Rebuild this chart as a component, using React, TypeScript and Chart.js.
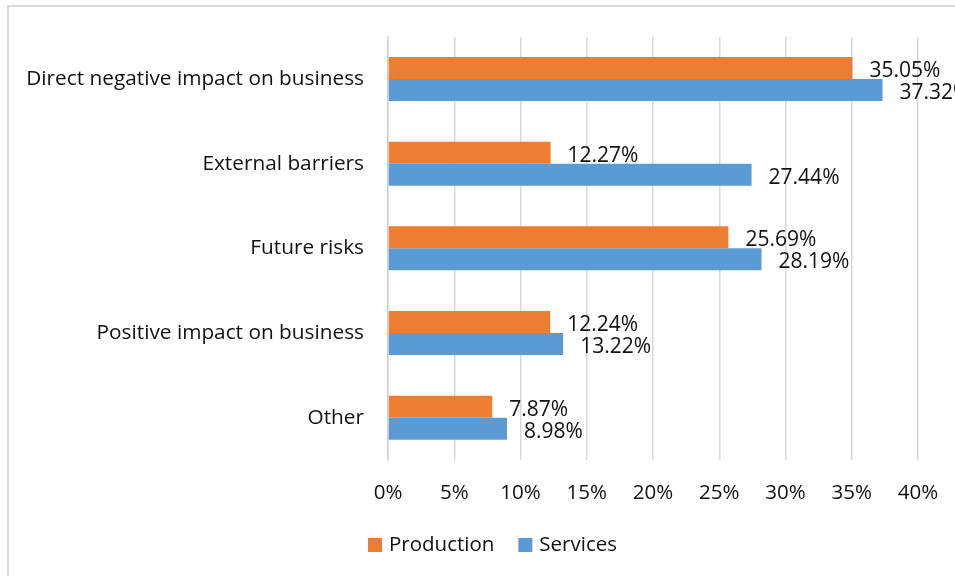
import React, { useEffect, useRef } from 'react';
import { Chart, registerables } from 'chart.js';

Chart.register(...registerables);

const categories = [
  'Direct negative impact on business',
  'External barriers',
  'Future risks',
  'Positive impact on business',
  'Other',
];
const productionValues = [35.05, 12.27, 25.69, 12.24, 7.87];
const servicesValues = [37.32, 27.44, 28.19, 13.22, 8.98];
const seriesNames = ['Production', 'Services'];
const xMin = 0;
const xMax = 40;
const xStep = 5;

const FONT_FAMILY = '"Open Sans", "Noto Sans", sans-serif';
const TEXT_COLOR = '#111111';
const ORANGE = '#ED7D31';
const BLUE = '#5B9BD5';

const dataLabelPlugin = {
  id: 'dataLabelPlugin',
  afterDatasetsDraw(chart: any) {
    const ctx = chart.ctx;
    ctx.save();
    ctx.font = `21px ${FONT_FAMILY}`;
    ctx.fillStyle = TEXT_COLOR;
    ctx.textAlign = 'left';
    ctx.textBaseline = 'middle';
    chart.data.datasets.forEach((ds: any, i: number) => {
      const meta = chart.getDatasetMeta(i);
      meta.data.forEach((el: any, j: number) => {
        const v = Number(ds.data[j]);
        ctx.fillText(v.toFixed(2) + '%', el.x + 17, el.y + 3);
      });
    });
    ctx.restore();
  },
};

// Legend drawn below the axis, centred like the original (box, 7px gap, text, 24px between items)
const bottomLegendPlugin = {
  id: 'bottomLegendPlugin',
  afterDraw(chart: any) {
    const ctx = chart.ctx;
    const box = 14;
    const gapText = 7;
    const gapItems = 24;
    const centerX = 492.5;
    const centerY = 545;
    ctx.save();
    ctx.font = `20.5px ${FONT_FAMILY}`;
    ctx.textBaseline = 'middle';
    ctx.textAlign = 'left';
    const items = chart.data.datasets.map((ds: any) => ({
      text: ds.label,
      color: ds.backgroundColor,
      w: box + gapText + ctx.measureText(ds.label).width,
    }));
    const total =
      items.reduce((a: number, it: any) => a + it.w, 0) + gapItems * (items.length - 1);
    let x = centerX - total / 2;
    items.forEach((it: any) => {
      ctx.fillStyle = it.color;
      ctx.fillRect(x, centerY - box / 2, box, box);
      ctx.fillStyle = TEXT_COLOR;
      ctx.fillText(it.text, x + box + gapText, centerY);
      x += it.w + gapItems;
    });
    ctx.restore();
  },
};

export default function App() {
  const canvasRef = useRef<HTMLCanvasElement | null>(null);

  useEffect(() => {
    if (!canvasRef.current) return;
    const font = { family: FONT_FAMILY, size: 20.5 };
    const chart = new Chart(canvasRef.current, {
      type: 'bar',
      data: {
        labels: categories,
        datasets: [
          {
            label: seriesNames[0],
            data: productionValues,
            backgroundColor: ORANGE,
            borderWidth: 0,
            categoryPercentage: 0.52,
            barPercentage: 1.0,
          },
          {
            label: seriesNames[1],
            data: servicesValues,
            backgroundColor: BLUE,
            borderWidth: 0,
            categoryPercentage: 0.52,
            barPercentage: 1.0,
          },
        ],
      },
      options: {
        indexAxis: 'y',
        responsive: false,
        animation: false,
        devicePixelRatio: 1,
        layout: { padding: { left: 0, right: 37, top: 36.7, bottom: 66 } },
        plugins: {
          legend: { display: false },
          tooltip: { enabled: false },
          title: { display: false },
        },
        scales: {
          x: {
            min: xMin,
            max: xMax,
            ticks: {
              stepSize: xStep,
              callback: (v: any) => v + '%',
              padding: 21,
              font,
              color: TEXT_COLOR,
              maxRotation: 0,
              autoSkip: false,
            },
            grid: { color: '#d9d9d9', lineWidth: 1.5, drawTicks: false },
            border: { display: false },
            afterFit: (s: any) => {
              s.height = 50;
              s.paddingLeft = 0;
              s.paddingRight = 0;
            },
          },
          y: {
            ticks: { padding: 24, font: { family: FONT_FAMILY, size: 20.8 }, color: TEXT_COLOR },
            grid: { display: false, drawTicks: false },
            border: { color: '#d0d0d0', width: 1.5 },
            afterFit: (s: any) => {
              s.width = 388;
            },
          },
        },
      } as any,
      plugins: [dataLabelPlugin, bottomLegendPlugin],
    });
    return () => chart.destroy();
  }, []);

  return (
    <div
      style={{
        position: 'absolute',
        left: 0,
        top: 0,
        width: 955,
        height: 576,
        overflow: 'hidden',
        background: '#ffffff',
      }}
    >
      <div
        style={{
          position: 'absolute',
          left: 7,
          top: 5,
          width: 1100,
          height: 800,
          border: '2px solid #d9d9d9',
        }}
      />
      <canvas
        ref={canvasRef}
        width={955}
        height={576}
        style={{ position: 'absolute', left: 0, top: 0, width: 955, height: 576 }}
      />
    </div>
  );
}
